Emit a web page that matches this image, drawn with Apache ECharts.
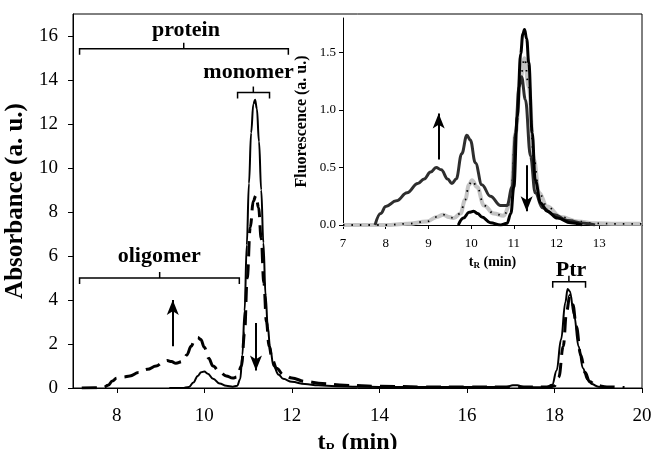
<!DOCTYPE html>
<html>
<head>
<meta charset="utf-8">
<script src="https://cdn.jsdelivr.net/npm/echarts@6/dist/echarts.min.js"></script>
<style>
html, body { margin: 0; padding: 0; background: #fff; }
#chart { width: 653px; height: 449px; }
</style>
</head>
<body>
<div id="chart"></div>
<script>
// main chromatogram, absorbance vs retention time
var tSolid = [9.2, 9.5, 9.65, 9.75, 9.85, 9.93, 10.0, 10.08, 10.2, 10.35, 10.5, 10.65, 10.75, 10.82, 10.87, 10.92, 10.97, 11.02, 11.07, 11.12, 11.16, 11.2, 11.25, 11.3, 11.35, 11.4, 11.45, 11.5, 11.58, 11.7, 11.8, 12.0, 12.3, 12.6, 13.0, 13.5, 14.0, 15.0, 16.0, 16.9, 17.05, 17.15, 17.3, 17.8, 17.95, 18.05, 18.15, 18.25, 18.3, 18.35, 18.45, 18.55, 18.65, 18.75, 18.85, 19.0, 19.2];
var absSolid = [0, 0, 0.05, 0.25, 0.55, 0.72, 0.75, 0.65, 0.42, 0.2, 0.1, 0.06, 0.1, 0.4, 1.5, 3.5, 6.5, 9.3, 11.6, 12.9, 13.1, 12.7, 11.2, 9.0, 6.6, 4.2, 2.8, 1.9, 1.0, 0.6, 0.42, 0.28, 0.18, 0.12, 0.08, 0.06, 0.05, 0.04, 0.04, 0.05, 0.12, 0.12, 0.04, 0.03, 0.15, 0.8, 2.2, 3.9, 4.5, 4.4, 3.3, 1.9, 0.9, 0.4, 0.18, 0.06, 0.02];
var tDashed = [7.2, 7.5, 7.7, 7.8, 7.9, 8.0, 8.15, 8.3, 8.5, 8.7, 8.9, 9.05, 9.15, 9.25, 9.35, 9.5, 9.6, 9.7, 9.78, 9.85, 9.92, 10.0, 10.1, 10.2, 10.35, 10.5, 10.65, 10.75, 10.85, 10.92, 10.98, 11.05, 11.12, 11.18, 11.24, 11.3, 11.36, 11.42, 11.48, 11.55, 11.65, 11.8, 12.0, 12.3, 12.7, 13.2, 14, 15, 16, 17, 17.9, 18.0, 18.1, 18.2, 18.28, 18.35, 18.42, 18.5, 18.6, 18.7, 18.8, 18.95, 19.2, 19.6];
var absDashed = [0, 0.01, 0.03, 0.12, 0.32, 0.45, 0.5, 0.55, 0.7, 0.85, 1.0, 1.15, 1.25, 1.2, 1.12, 1.2, 1.5, 1.9, 2.2, 2.3, 2.2, 1.85, 1.35, 1.0, 0.72, 0.55, 0.45, 0.5, 1.0, 2.5, 5.0, 7.3, 8.5, 8.75, 8.2, 6.8, 4.8, 3.0, 1.9, 1.3, 0.9, 0.62, 0.45, 0.3, 0.2, 0.12, 0.08, 0.05, 0.05, 0.05, 0.05, 0.1, 0.5, 1.9, 3.5, 4.2, 3.8, 2.8, 1.5, 0.7, 0.3, 0.12, 0.05, 0.02];

// inset, fluorescence
var tFluoA = [9.7, 9.82, 9.95, 10.06, 10.15, 10.25, 10.45, 10.69, 10.84, 10.93, 11.0, 11.08, 11.16, 11.21, 11.25, 11.3, 11.35, 11.43, 11.5, 11.63, 11.78, 12.02, 12.33, 12.6];
var fluoA = [0, 0.06, 0.11, 0.12, 0.1, 0.07, 0.02, 0, 0.015, 0.1, 0.33, 0.94, 1.49, 1.66, 1.70, 1.62, 1.41, 0.80, 0.39, 0.19, 0.12, 0.06, 0.02, 0];
var tFluoB = [7.0, 8.0, 8.5, 8.96, 9.2, 9.35, 9.48, 9.59, 9.75, 9.86, 9.95, 10.02, 10.14, 10.3, 10.53, 10.76, 10.92, 11.04, 11.16, 11.25, 11.35, 11.47, 11.59, 11.78, 12.1, 12.5, 12.9, 13.4, 14.0];
var fluoB = [0, 0, 0.01, 0.03, 0.07, 0.09, 0.07, 0.06, 0.1, 0.22, 0.35, 0.39, 0.33, 0.17, 0.1, 0.08, 0.19, 0.8, 1.29, 1.45, 1.2, 0.57, 0.28, 0.16, 0.07, 0.03, 0.015, 0.01, 0.01];
var tFluoC = [7.75, 7.88, 8.0, 8.25, 8.5, 8.75, 8.9, 9.05, 9.18, 9.3, 9.45, 9.55, 9.65, 9.78, 9.9, 9.98, 10.1, 10.25, 10.45, 10.69, 10.84, 10.96, 11.04, 11.12, 11.18, 11.27, 11.39, 11.5, 11.67, 11.94, 12.25, 12.65, 12.9];
var fluoC = [0, 0.1, 0.16, 0.21, 0.28, 0.36, 0.4, 0.46, 0.5, 0.48, 0.4, 0.36, 0.4, 0.62, 0.78, 0.74, 0.54, 0.35, 0.25, 0.17, 0.17, 0.33, 0.8, 1.2, 1.29, 1.09, 0.6, 0.28, 0.15, 0.09, 0.04, 0.015, 0];

// tick labels
var mainXTicks = [8, 10, 12, 14, 16, 18, 20];
var mainYTicks = [0, 2, 4, 6, 8, 10, 12, 14, 16];
var insetXTicks = [7, 8, 9, 10, 11, 12, 13];
var insetYTicks = [0, 0.5, 1.0, 1.5];

// peak brackets (data units)
var bracketLabels = ['protein', 'monomer', 'oligomer', 'Ptr'];
var bracketStart = [7.15, 10.76, 7.15, 17.96];
var bracketEnd = [11.92, 11.49, 10.8, 18.71];
var bracketLevel = [15.42, 13.43, 5.0, 4.83];
var bracketMid = [9.53, 11.12, 8.98, 18.33];
var bracketTextX = [9.58, 11.01, 8.97, 18.38];
var bracketTextY = [16.28, 14.35, 5.97, 5.33];

// arrows: x, from, to
var arrowMainX = [9.28, 11.18];
var arrowMainFrom = [1.9, 2.95];
var arrowMainTo = [4.0, 0.8];
var arrowInsetX = [9.24, 11.3];
var arrowInsetFrom = [0.57, 0.52];
var arrowInsetTo = [0.97, 0.12];

var FONT = '"Liberation Serif", "Times New Roman", serif';

function zip(a, b) {
	return a.map(function (v, i) { return [v, b[i]]; });
}
function arrows(xs, from, to) {
	return xs.map(function (x, i) {
		return [{ coord: [x, from[i]] }, { coord: [x, to[i]] }];
	});
}

var bracketData = bracketLabels.map(function (l, i) {
	return [bracketStart[i], bracketEnd[i], bracketLevel[i], bracketMid[i], bracketTextX[i], bracketTextY[i]];
});

function renderBracket(params, api) {
	var p0 = api.coord([api.value(0), api.value(2)]);
	var p1 = api.coord([api.value(1), api.value(2)]);
	var pm = api.coord([api.value(3), api.value(2)]);
	var pt = api.coord([api.value(4), api.value(5)]);
	var leg = 6;
	return {
		type: 'group',
		children: [{
			type: 'polyline',
			shape: { points: [[p0[0], p0[1] + leg], [p0[0], p0[1]], [p1[0], p1[1]], [p1[0], p1[1] + leg]] },
			style: { stroke: '#000', lineWidth: 1.5, fill: 'none' }
		}, {
			type: 'line',
			shape: { x1: pm[0], y1: pm[1], x2: pm[0], y2: pm[1] - leg },
			style: { stroke: '#000', lineWidth: 1.5 }
		}, {
			type: 'text',
			x: pt[0],
			y: pt[1],
			style: {
				text: bracketLabels[params.dataIndex],
				font: 'bold 22px ' + FONT,
				align: 'center',
				verticalAlign: 'middle',
				fill: '#000'
			}
		}]
	};
}

var arrowLine = {
	silent: true,
	symbol: ['none', 'arrow'],
	symbolSize: [9, 15],
	label: { show: false },
	lineStyle: { color: '#000', width: 2, type: 'solid' },
	emphasis: { disabled: true }
};

var chart = echarts.init(document.getElementById('chart'));
chart.setOption({
	animation: false,
	backgroundColor: '#fff',
	textStyle: { fontFamily: FONT, color: '#000' },
	grid: [{
		left: 73, right: 11, top: 14, bottom: 61,
		outerBoundsMode: 'none', containLabel: false,
		show: true, borderColor: '#000', borderWidth: 1
	}, {
		left: 343, right: 11, top: 18, bottom: 224,
		outerBoundsMode: 'none', containLabel: false
	}],
	xAxis: [{
		type: 'value', gridIndex: 0, min: 7, max: 20,
		name: '{b|t}{s|R}{b| (min)}',
		nameLocation: 'middle', nameGap: 40,
		nameTextStyle: {
			rich: {
				b: { fontFamily: FONT, fontWeight: 'bold', fontSize: 24, color: '#000' },
				s: { fontFamily: FONT, fontWeight: 'bold', fontSize: 14, color: '#000', padding: [13, 0, 0, 0] }
			}
		},
		axisLine: { lineStyle: { color: '#000', width: 1 } },
		axisTick: { inside: false, length: 5, customValues: mainXTicks, lineStyle: { color: '#000' } },
		axisLabel: { customValues: mainXTicks, fontSize: 19, margin: 19, color: '#000', fontFamily: FONT },
		splitLine: { show: false }
	}, {
		type: 'value', gridIndex: 1, min: 7, max: 14, interval: 1,
		name: '{b|t}{s|R}{b| (min)}',
		nameLocation: 'middle', nameGap: 29,
		nameTextStyle: {
			rich: {
				b: { fontFamily: FONT, fontWeight: 'bold', fontSize: 14, color: '#000' },
				s: { fontFamily: FONT, fontWeight: 'bold', fontSize: 9, color: '#000', padding: [7, 0, 0, 0] }
			}
		},
		axisLine: { lineStyle: { color: '#000', width: 1 } },
		axisTick: { inside: false, length: 4, customValues: insetXTicks, lineStyle: { color: '#000' } },
		axisLabel: { customValues: insetXTicks, fontSize: 13, margin: 12, color: '#000', fontFamily: FONT },
		splitLine: { show: false }
	}],
	yAxis: [{
		type: 'value', gridIndex: 0, min: 0, max: 17,
		name: 'Absorbance (a. u.)',
		nameLocation: 'middle', nameGap: 41,
		nameTextStyle: { fontFamily: FONT, fontWeight: 'bold', fontSize: 25, color: '#000' },
		axisLine: { show: true, lineStyle: { color: '#000', width: 1 } },
		axisTick: { show: true, inside: false, length: 5, customValues: mainYTicks, lineStyle: { color: '#000' } },
		axisLabel: { customValues: mainYTicks, fontSize: 19, margin: 15, color: '#000', fontFamily: FONT },
		splitLine: { show: false }
	}, {
		type: 'value', gridIndex: 1, min: 0, max: 1.8,
		name: 'Fluorescence (a. u.)',
		nameLocation: 'middle', nameGap: 33,
		nameTextStyle: { fontFamily: FONT, fontWeight: 'bold', fontSize: 16, color: '#000' },
		axisLine: { show: true, lineStyle: { color: '#000', width: 1 } },
		axisTick: { show: true, inside: false, length: 4, customValues: insetYTicks, lineStyle: { color: '#000' } },
		axisLabel: {
			customValues: insetYTicks, fontSize: 13, margin: 7, color: '#000', fontFamily: FONT,
			formatter: function (v) { return v.toFixed(1); }
		},
		splitLine: { show: false }
	}],
	series: [{
		type: 'line', xAxisIndex: 0, yAxisIndex: 0,
		data: zip(tDashed, absDashed),
		showSymbol: false, smooth: 0.4, smoothMonotone: 'x',
		lineStyle: { color: '#000', width: 3, type: [15, 8] }
	}, {
		type: 'line', xAxisIndex: 0, yAxisIndex: 0,
		data: zip(tSolid, absSolid),
		showSymbol: false, smooth: 0.4, smoothMonotone: 'x',
		lineStyle: { color: '#000', width: 2 },
		markLine: Object.assign({ data: arrows(arrowMainX, arrowMainFrom, arrowMainTo) }, arrowLine)
	}, {
		type: 'custom', xAxisIndex: 0, yAxisIndex: 0,
		data: bracketData,
		encode: { x: 0, y: 2 },
		renderItem: renderBracket,
		silent: true
	}, {
		type: 'line', xAxisIndex: 1, yAxisIndex: 1,
		data: zip(tFluoB, fluoB),
		showSymbol: false, smooth: 0.4, smoothMonotone: 'x',
		lineStyle: { color: '#c4c4c4', width: 4 }
	}, {
		type: 'line', xAxisIndex: 1, yAxisIndex: 1,
		data: zip(tFluoB, fluoB),
		showSymbol: false, smooth: 0.4, smoothMonotone: 'x',
		lineStyle: { color: '#000', width: 1.8, type: [1.5, 7] }
	}, {
		type: 'line', xAxisIndex: 1, yAxisIndex: 1,
		data: zip(tFluoC, fluoC),
		showSymbol: false, smooth: 0.4, smoothMonotone: 'x',
		lineStyle: { color: '#2e2e2e', width: 3 }
	}, {
		type: 'line', xAxisIndex: 1, yAxisIndex: 1,
		data: zip(tFluoA, fluoA),
		showSymbol: false, smooth: 0.4, smoothMonotone: 'x',
		lineStyle: { color: '#000', width: 3 },
		markLine: Object.assign({ data: arrows(arrowInsetX, arrowInsetFrom, arrowInsetTo) }, arrowLine)
	}]
});
</script>
</body>
</html>
